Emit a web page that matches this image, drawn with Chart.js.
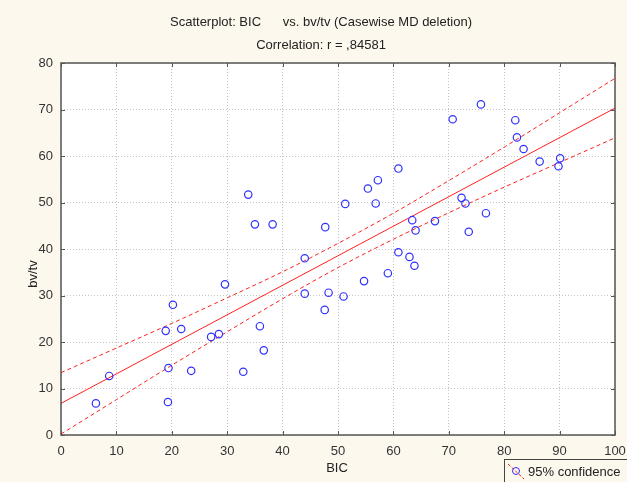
<!DOCTYPE html>
<html>
<head>
<meta charset="utf-8">
<script src="https://cdn.jsdelivr.net/npm/chart.js@4.4.1/dist/chart.umd.min.js"></script>
<style>
html, body { margin: 0; padding: 0; background: #fcf8ee; }
#wrap { width: 627px; height: 482px; }
</style>
</head>
<body>
<div id="wrap"><canvas id="scatter" width="627" height="482"></canvas></div>
<script>
// values
var bic = [33.8, 35.0, 38.2, 47.7, 75.8, 70.7, 82.0, 82.3, 83.5, 86.4, 90.1, 89.8,
           60.9, 57.2, 55.4, 51.3, 56.8, 63.4, 64.0, 67.5, 72.3, 73.0, 76.7, 73.6,
           8.7, 6.3, 19.3, 19.4, 23.5, 32.9, 18.9, 20.2, 21.7, 27.1, 28.5, 29.6,
           35.9, 36.6, 44.0, 44.0, 48.3, 47.6, 60.9, 62.9, 63.8, 59.0, 54.7, 51.0];
var bvtv = [51.7, 45.3, 45.3, 44.7, 71.1, 67.9, 67.7, 64.0, 61.5, 58.8, 59.5, 57.8,
            57.3, 54.8, 53.0, 49.7, 49.8, 46.2, 44.0, 46.0, 51.0, 49.8, 47.7, 43.7,
            12.7, 6.8, 7.1, 14.4, 13.8, 13.6, 22.4, 28.0, 22.8, 21.1, 21.7, 32.4,
            23.4, 18.2, 38.0, 30.4, 30.6, 26.9, 39.3, 38.3, 36.4, 34.8, 33.1, 29.8];

var fitX = [0, 100];
var fitY = [6.8, 70.3];

var bandX = [0, 10, 20, 30, 40, 50, 60, 70, 80, 90, 100];
var bandUpper = [13.4, 18.7, 24.0, 29.5, 35.1, 41.2, 47.7, 54.7, 61.9, 69.3, 76.7];
var bandLower = [0.2, 7.6, 15.0, 22.2, 29.3, 36.0, 42.1, 47.8, 53.3, 58.6, 63.9];

var xTicks = [0, 10, 20, 30, 40, 50, 60, 70, 80, 90, 100];
var yTicks = [0, 10, 20, 30, 40, 50, 60, 70, 80];

var titleLines = ['Scatterplot: BIC      vs. bv/tv (Casewise MD deletion)', 'Correlation: r = ,84581'];
var xTitle = 'BIC';
var yTitle = 'bv/tv';
var legendText = '95% confidence';

var FONT = '"Liberation Sans", Arial, sans-serif';
var PAGE_BG = '#fcf8ee';
var RED = '#ff2020';
var BLUE = '#3030ff';

function pairs(xs, ys) {
    var out = [];
    for (var i = 0; i < xs.length; i++) out.push({x: xs[i], y: ys[i]});
    return out;
}

var backdrop = {
    id: 'backdrop',
    beforeDraw: function(chart) {
        var ctx = chart.ctx, a = chart.chartArea;
        ctx.save();
        ctx.fillStyle = PAGE_BG;
        ctx.fillRect(0, 0, chart.width, chart.height);
        ctx.fillStyle = '#ffffff';
        ctx.fillRect(a.left, a.top, a.right - a.left, a.bottom - a.top);
        ctx.restore();
    }
};

var frame = {
    id: 'frame',
    afterDraw: function(chart) {
        var ctx = chart.ctx, a = chart.chartArea;
        var xs = chart.scales.x, ys = chart.scales.y;
        ctx.save();
        ctx.strokeStyle = '#555555';
        ctx.lineWidth = 1.5;
        ctx.strokeRect(a.left, a.top, a.right - a.left, a.bottom - a.top);
        ctx.lineWidth = 1;
        ctx.beginPath();
        xTicks.forEach(function(v) {
            var px = Math.round(xs.getPixelForValue(v)) + 0.5;
            ctx.moveTo(px, a.bottom); ctx.lineTo(px, a.bottom - 4);
            ctx.moveTo(px, a.top); ctx.lineTo(px, a.top + 4);
        });
        yTicks.forEach(function(v) {
            var py = Math.round(ys.getPixelForValue(v)) + 0.5;
            ctx.moveTo(a.left, py); ctx.lineTo(a.left + 4, py);
            ctx.moveTo(a.right, py); ctx.lineTo(a.right - 4, py);
        });
        ctx.stroke();

        // titles
        ctx.fillStyle = '#222222';
        ctx.font = '13px ' + FONT;
        ctx.textAlign = 'center';
        ctx.textBaseline = 'middle';
        ctx.fillText(titleLines[0], 321, 22);
        ctx.fillText(titleLines[1], 321, 45);
        ctx.fillText(xTitle, 337, 468);

        ctx.save();
        ctx.translate(33, 274);
        ctx.rotate(-Math.PI / 2);
        ctx.fillText(yTitle, 0, 0);
        ctx.restore();

        // legend box (cut off at the right edge)
        ctx.strokeStyle = '#444444';
        ctx.lineWidth = 1;
        ctx.strokeRect(504.5, 459.5, 140, 30);
        ctx.strokeStyle = RED;
        ctx.setLineDash([3, 2]);
        ctx.beginPath();
        ctx.moveTo(508, 464); ctx.lineTo(524, 479);
        ctx.stroke();
        ctx.setLineDash([]);
        ctx.strokeStyle = BLUE;
        ctx.beginPath();
        ctx.arc(516, 471, 3.5, 0, Math.PI * 2);
        ctx.stroke();
        ctx.textAlign = 'left';
        ctx.fillStyle = '#222222';
        ctx.fillText(legendText, 528, 472);
        ctx.restore();
    }
};

var chart = new Chart(document.getElementById('scatter'), {
    type: 'scatter',
    data: {
        datasets: [{
            label: 'bv/tv',
            data: pairs(bic, bvtv),
            showLine: false,
            pointStyle: 'circle',
            pointRadius: 3.7,
            pointBorderWidth: 1.2,
            pointBorderColor: BLUE,
            pointBackgroundColor: 'rgba(0,0,0,0)'
        }, {
            label: 'fit',
            data: pairs(fitX, fitY),
            showLine: true,
            borderColor: RED,
            borderWidth: 1,
            pointRadius: 0
        }, {
            label: 'upper',
            data: pairs(bandX, bandUpper),
            showLine: true,
            borderColor: RED,
            borderWidth: 1,
            borderDash: [4, 3],
            cubicInterpolationMode: 'monotone',
            pointRadius: 0
        }, {
            label: 'lower',
            data: pairs(bandX, bandLower),
            showLine: true,
            borderColor: RED,
            borderWidth: 1,
            borderDash: [4, 3],
            cubicInterpolationMode: 'monotone',
            pointRadius: 0
        }]
    },
    options: {
        responsive: false,
        animation: false,
        devicePixelRatio: 1,
        layout: { padding: { left: 0, top: 63, right: 0, bottom: 0 } },
        plugins: {
            legend: { display: false },
            tooltip: { enabled: false }
        },
        scales: {
            x: {
                type: 'linear',
                min: 0,
                max: 100,
                afterFit: function(scale) { scale.height = 47; scale.paddingRight = 12; },
                afterBuildTicks: function(scale) { scale.ticks = xTicks.map(function(v) { return {value: v}; }); },
                ticks: { padding: 9, color: '#333333', font: { family: FONT, size: 13 }, maxRotation: 0 },
                grid: { color: '#c4c4c4', lineWidth: 1, drawTicks: false },
                border: { display: false, dash: [1, 2] }
            },
            y: {
                type: 'linear',
                min: 0,
                max: 80,
                afterFit: function(scale) { scale.width = 61; },
                afterBuildTicks: function(scale) { scale.ticks = yTicks.map(function(v) { return {value: v}; }); },
                ticks: { padding: 8, color: '#333333', font: { family: FONT, size: 13 } },
                grid: { color: '#c4c4c4', lineWidth: 1, drawTicks: false },
                border: { display: false, dash: [1, 2] }
            }
        }
    },
    plugins: [backdrop, frame]
});
</script>
</body>
</html>
